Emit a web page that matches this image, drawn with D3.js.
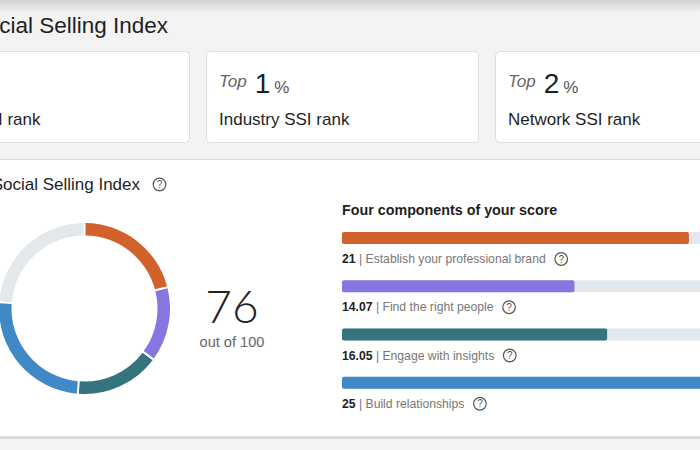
<!DOCTYPE html>
<html>
<head>
<meta charset="utf-8">
<script src="https://cdn.jsdelivr.net/npm/d3@7"></script>
<style>
  html, body { margin: 0; padding: 0; background: #f3f3f3; overflow: hidden; }
  svg { display: block; font-family: "Liberation Sans", Arial, sans-serif; }
</style>
</head>
<body>
<svg id="chart" width="700" height="450"></svg>
<script>
// ---- data ----
const pageTitle = "Social Selling Index";
const rankLabels = ["Your SSI rank", "Industry SSI rank", "Network SSI rank"];
const rankValues = [null, 1, 2];
const sectionTitle = "Social Selling Index";
const totalScore = 76;
const maxScore = 100;
const componentsTitle = "Four components of your score";
const componentNames = ["Establish your professional brand", "Find the right people", "Engage with insights", "Build relationships"];
const componentValues = [21, 14.07, 16.05, 25];
const componentMax = 25;
const componentColors = ["#d2622b", "#8577df", "#35737f", "#4089c6"];
const remainderColor = "#e2e8ec";

const svg = d3.select("#chart");

// background + top shadow
const defs = svg.append("defs");
const grad = defs.append("linearGradient").attr("id", "topShadow").attr("x1", 0).attr("x2", 0).attr("y1", 0).attr("y2", 1);
grad.append("stop").attr("offset", "0%").attr("stop-color", "#d2d2d2");
grad.append("stop").attr("offset", "100%").attr("stop-color", "#f3f3f3");
svg.append("rect").attr("width", 700).attr("height", 450).attr("fill", "#f3f3f3");
svg.append("rect").attr("width", 700).attr("height", 13).attr("fill", "url(#topShadow)");

// page title (cut at left edge)
svg.append("text").attr("x", 168).attr("y", 33).attr("text-anchor", "end")
  .attr("font-size", 22.5).attr("fill", "#1f1f1f").text(pageTitle);

// rank cards
const cardX = d3.scalePoint().domain(d3.range(rankLabels.length)).range([-83, 495]);
const cards = svg.selectAll("g.card").data(rankLabels).join("g").attr("class", "card")
  .attr("transform", (d, i) => `translate(${cardX(i)},51)`);
cards.append("rect").attr("x", 0.5).attr("y", 0.5).attr("width", 272).attr("height", 91)
  .attr("rx", 4).attr("fill", "#fff").attr("stroke", "#dedede");
cards.each(function(d, i) {
  const g = d3.select(this);
  const t = g.append("text").attr("x", 13).attr("y", 42);
  if (rankValues[i] !== null) {
    t.append("tspan").attr("font-style", "italic").attr("font-size", 17).attr("fill", "#666").attr("dy", -6).text("Top");
    t.append("tspan").attr("font-size", 28).attr("fill", "#1f1f1f").attr("dx", 8).attr("dy", 6).text(rankValues[i]);
    t.append("tspan").attr("font-size", 17).attr("fill", "#555").attr("dx", 4).text("%");
  }
  if (i === 0) {
    g.append("text").attr("x", 123.5).attr("y", 74).attr("text-anchor", "end")
      .attr("font-size", 17).attr("fill", "#1f1f1f").text(d);
  } else {
    g.append("text").attr("x", 13).attr("y", 74).attr("font-size", 17).attr("fill", "#1f1f1f").text(d);
  }
});

// main panel
svg.append("rect").attr("x", -10).attr("y", 159.5).attr("width", 720).attr("height", 277)
  .attr("fill", "#fff").attr("stroke", "#dcdcdc");
svg.append("rect").attr("x", 0).attr("y", 437).attr("width", 700).attr("height", 2).attr("fill", "#dadada");
svg.append("rect").attr("x", 0).attr("y", 439).attr("width", 700).attr("height", 11).attr("fill", "#f3f3f3");

function helpIcon(cx, cy) {
  const g = svg.append("g").attr("transform", `translate(${cx},${cy})`);
  g.append("circle").attr("r", 6.3).attr("fill", "none").attr("stroke", "#555").attr("stroke-width", 1.2);
  g.append("text").attr("y", 3.6).attr("text-anchor", "middle").attr("font-size", 10)
    .attr("fill", "#555").text("?");
}

svg.append("text").attr("x", 140).attr("y", 190).attr("text-anchor", "end")
  .attr("font-size", 17).attr("fill", "#1f1f1f").text(sectionTitle);
helpIcon(159.5, 184.5);

// donut
const donutData = componentValues.concat([maxScore - d3.sum(componentValues)]);
const donutColors = componentColors.concat([remainderColor]);
const pie = d3.pie().sort(null).value(d => d).padAngle(0.018);
const arc = d3.arc().innerRadius(73).outerRadius(85.5);
const donut = svg.append("g").attr("transform", "translate(84.5,308.5)");
donut.selectAll("path").data(pie(donutData)).join("path")
  .attr("d", arc).attr("fill", (d, i) => donutColors[i]);

svg.append("text").attr("x", 232).attr("y", 323).attr("text-anchor", "middle")
  .attr("font-family", "Lato, Roboto, sans-serif").attr("font-weight", 300)
  .attr("font-size", 46).attr("fill", "#222").text(totalScore);
svg.append("text").attr("x", 232).attr("y", 347).attr("text-anchor", "middle")
  .attr("font-size", 14.6).attr("fill", "#666").text(`out of ${maxScore}`);

// components bars
svg.append("text").attr("x", 342).attr("y", 215).attr("font-size", 14.3)
  .attr("font-weight", "bold").attr("fill", "#1f1f1f").text(componentsTitle);

const xBar = d3.scaleLinear().domain([0, componentMax]).range([0, 413]);
const yBar = d3.scaleBand().domain(componentNames).range([232, 425]).paddingInner(0).paddingOuter(0);
const barH = 12;
const bars = svg.append("g").attr("transform", "translate(342,0)");
bars.selectAll("rect.track").data(componentNames).join("rect").attr("class", "track")
  .attr("x", 0).attr("y", d => yBar(d)).attr("width", xBar(componentMax)).attr("height", barH)
  .attr("rx", 2).attr("fill", remainderColor);
bars.selectAll("rect.val").data(componentValues).join("rect").attr("class", "val")
  .attr("x", 0).attr("y", (d, i) => yBar(componentNames[i])).attr("width", d => xBar(d)).attr("height", barH)
  .attr("rx", 2).attr("fill", (d, i) => componentColors[i]);

componentNames.forEach((name, i) => {
  const t = svg.append("text").attr("x", 342).attr("y", yBar(name) + 31).attr("font-size", 12.2);
  t.append("tspan").attr("font-weight", "bold").attr("fill", "#222").text(componentValues[i]);
  t.append("tspan").attr("fill", "#777").text(" | " + name);
  const w = t.node().getComputedTextLength();
  helpIcon(342 + w + 15.5, yBar(name) + 27);
});
</script>
</body>
</html>
